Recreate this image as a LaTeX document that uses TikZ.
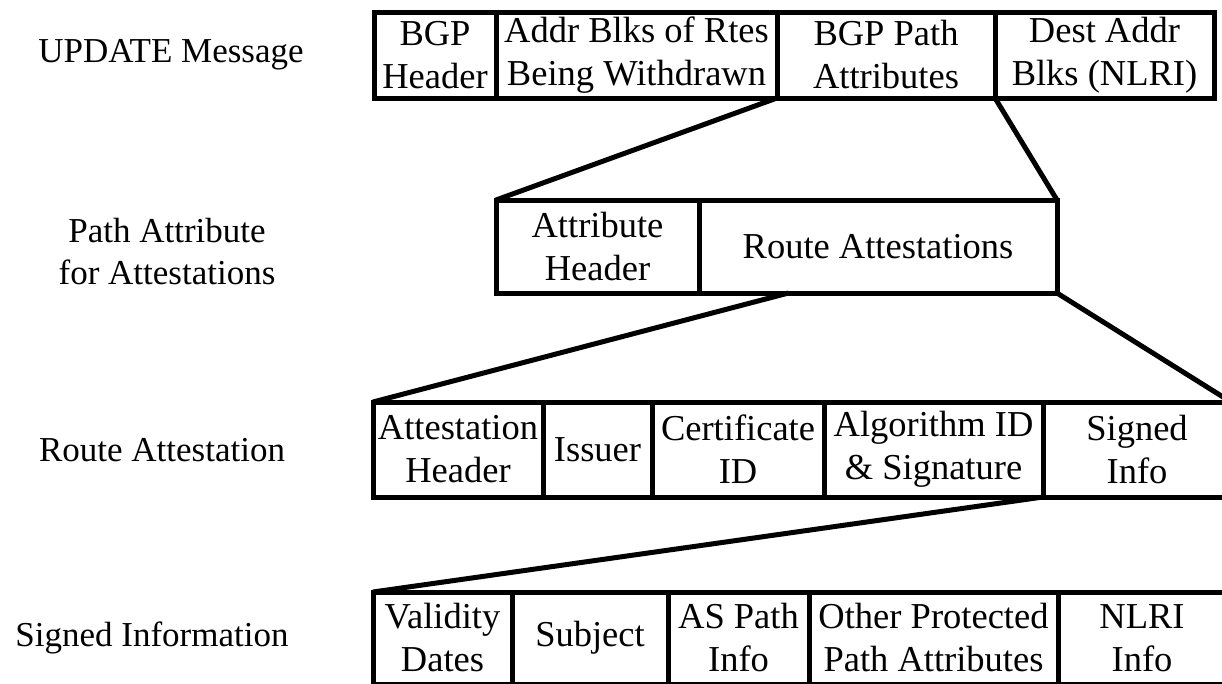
\documentclass[tikz,border=0pt]{standalone}
\usepackage{fontspec}
\setmainfont{Liberation Serif}
\usetikzlibrary{calc}

\begin{document}
\begin{tikzpicture}[x=1pt, y=-1pt,
  every node/.style={outer sep=0pt, inner sep=0pt, align=center, font=\fontsize{35}{42}\selectfont},
  field/.style={draw, line width=5pt, font=\fontsize{36.5}{43}\selectfont},
  link/.style={line width=5pt}]
\useasboundingbox (0,0) rectangle (1222,683);

% row labels
\node (lblmsg) at (171,55) {UPDATE Message};
\node (lblpa) at (167,252) {Path Attribute\\for Attestations};
\node (lblra) at (162,450) {Route Attestation};
\node (lblsi) at (152,638) {Signed Information};

% UPDATE message
\node[field, minimum width=122pt, minimum height=86pt] (msg1) at (435,55) {BGP\\Header};
\node[field, minimum width=281pt, minimum height=86pt] (msg2) at (636.5,55) {Addr Blks of Rtes\\Being Withdrawn};
\node[field, minimum width=218pt, minimum height=86pt] (msg3) at (886,55) {BGP Path\\Attributes};
\node[field, minimum width=219pt, minimum height=86pt] (msg4) at (1104.5,55) {Dest Addr\\Blks (NLRI)};

% path attribute
\node[field, minimum width=203pt, minimum height=93pt] (pa1) at (597.5,246.5) {Attribute\\Header};
\node[field, minimum width=358pt, minimum height=93pt] (pa2) at (878,246.5) {Route Attestations};

% route attestation
\node[field, minimum width=170pt, minimum height=95pt] (ra1) at (458,449.5) {Attestation\\Header};
\node[field, minimum width=109pt, minimum height=95pt] (ra2) at (597.5,449.5) {Issuer};
\node[field, minimum width=172pt, minimum height=95pt] (ra3) at (738,449.5) {Certificate\\ID};
\node[field, minimum width=219pt, minimum height=95pt] (ra4) at (933.5,449.5) {Algorithm ID\\\& Signature};
\node[field, minimum width=188pt, minimum height=95pt] (ra5) at (1137,449.5) {Signed\\Info};

% signed information
\node[field, minimum width=139pt, minimum height=92pt] (si1) at (442.5,638) {Validity\\Dates};
\node[field, minimum width=156pt, minimum height=92pt] (si2) at (590,638) {Subject};
\node[field, minimum width=141pt, minimum height=92pt] (si3) at (738.5,638) {AS Path\\Info};
\node[field, minimum width=249pt, minimum height=92pt] (si4) at (933.5,638) {Other Protected\\Path Attributes};
\node[field, minimum width=168pt, minimum height=92pt] (si5) at (1142,638) {NLRI\\Info};

% expansions
\draw[link] (msg3.south west) -- (pa1.north west);
\draw[link] (msg3.south east) -- (pa2.north east);
\draw[link] ($(pa2.south west)!0.25!(pa2.south east)$) -- (ra1.north west);
\draw[link] (pa2.south east) -- (ra5.north east);
\draw[link] (ra4.south east) -- (si1.north west);
\end{tikzpicture}
\end{document}
